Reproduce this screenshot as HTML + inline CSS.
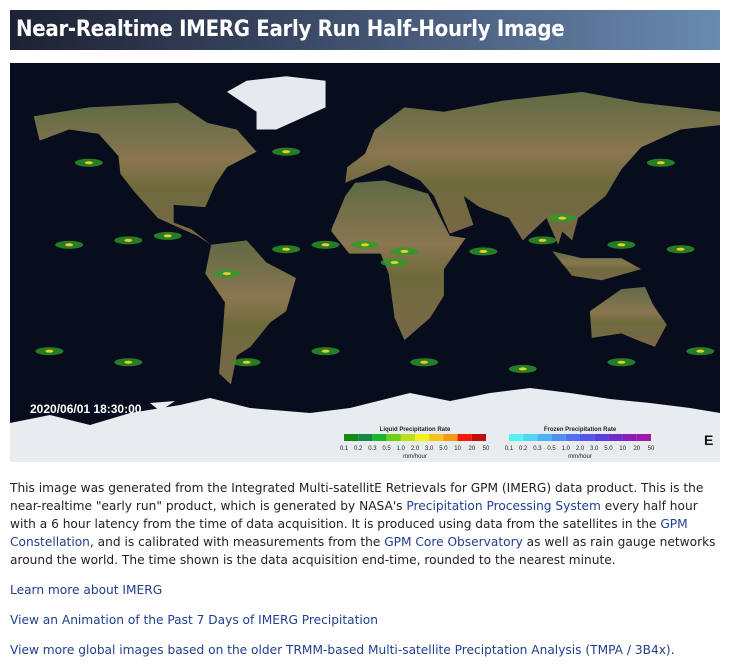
<!DOCTYPE html>
<html><head><meta charset="utf-8"><style>
body{margin:0;background:#fff;width:729px;height:666px;overflow:hidden;font-family:"DejaVu Sans","Liberation Sans",sans-serif;}
#hdr{position:absolute;left:10px;top:10px;width:710px;height:40px;background:linear-gradient(90deg,#1d2233 0%,#3a4864 40%,#6a8ab0 100%);}
#hdr h1{margin:0;color:#fff;font-family:"DejaVu Sans Condensed","Liberation Sans Narrow","Liberation Sans",sans-serif;font-weight:bold;font-size:22px;line-height:40px;padding-left:6px;letter-spacing:-0.3px}
#map{position:absolute;left:10px;top:63px;width:710px;height:399px}
.t{position:absolute;left:10px;font-size:12.2px;color:#222;line-height:18px;width:710px}
a{color:#1f3f8f;text-decoration:none}
</style></head><body>
<div id="hdr"><h1>Near-Realtime IMERG Early Run Half-Hourly Image</h1></div>
<svg id="map" viewBox="0 0 710 399" width="710" height="399">
<defs><linearGradient id="land" x1="0" y1="0" x2="0" y2="1"><stop offset="0" stop-color="#5f6a44"/><stop offset="0.4" stop-color="#8a7650"/><stop offset="0.6" stop-color="#6e6a3c"/><stop offset="1" stop-color="#7a6848"/></linearGradient></defs>
<rect width="710" height="399" fill="#070d1c"/>
<g id="land-g" fill="url(#land)"></g>
<path d="M0 360 L40 352 L80 362 L120 350 L170 342 L200 335 L240 345 L300 350 L340 345 L400 330 L440 338 L480 330 L520 325 L560 330 L600 336 L640 340 L680 345 L710 350 L710 399 L0 399Z" fill="#e8ecef"/>
<path d="M140 340 L150 348 L165 338Z" fill="#e8ecef"/>
<g id="rain"></g>
<text x="20" y="350" fill="#fff" font-size="12" font-weight="bold" font-family="Liberation Sans,sans-serif">2020/06/01 18:30:00</text>
<g id="legend" font-family="Liberation Sans,sans-serif" font-size="6" fill="#222"></g>
<text x="694" y="382" font-size="14" font-weight="bold" font-family="Liberation Sans,sans-serif" fill="#111">E</text>
</svg>
<div class="t" style="top:479px">This image was generated from the Integrated Multi-satellitE Retrievals for GPM (IMERG) data product. This is the near-realtime "early run" product, which is generated by NASA's <a href="#">Precipitation Processing System</a> every half hour with a 6 hour latency from the time of data acquisition. It is produced using data from the satellites in the <a href="#">GPM Constellation</a>, and is calibrated with measurements from the <a href="#">GPM Core Observatory</a> as well as rain gauge networks around the world. The time shown is the data acquisition end-time, rounded to the nearest minute.</div>
<div class="t" style="top:581px"><a href="#">Learn more about IMERG</a></div>
<div class="t" style="top:611px"><a href="#">View an Animation of the Past 7 Days of IMERG Precipitation</a></div>
<div class="t" style="top:641px"><a href="#">View more global images based on the older TRMM-based Multi-satellite Preciptation Analysis (TMPA / 3B4x)</a>.</div>
<script>
const NS="http://www.w3.org/2000/svg";
const P=(lo,la)=>[(lo+180)/360*710,(90-la)/180*399];
const conts={
"north-america":[[-168,66],[-140,70],[-95,72],[-80,63],[-65,60],[-55,50],[-70,43],[-76,35],[-81,25],[-97,26],[-97,18],[-88,15],[-78,8],[-85,12],[-105,20],[-117,32],[-124,40],[-125,48],[-135,58],[-150,60],[-165,55]],
"south-america":[[-78,8],[-60,10],[-50,0],[-35,-7],[-40,-22],[-48,-27],[-58,-38],[-65,-42],[-68,-55],[-74,-50],[-72,-30],[-71,-18],[-81,-5]],
"africa":[[-17,15],[-10,30],[-5,36],[10,37],[32,31],[43,12],[51,11],[40,-3],[40,-15],[33,-25],[20,-35],[15,-25],[12,-5],[8,4],[-8,4],[-17,14]],
"eurasia":[[-10,36],[-9,43],[0,49],[5,60],[20,70],[40,68],[70,73],[110,77],[140,72],[180,68],[180,62],[160,60],[140,52],[130,42],[122,30],[108,20],[105,10],[100,14],[98,8],[92,20],[80,10],[73,20],[58,25],[50,30],[55,17],[43,13],[35,30],[28,37],[12,44],[-10,36]],
"australia":[[114,-22],[130,-12],[142,-11],[146,-19],[153,-28],[147,-38],[138,-35],[130,-32],[115,-34]],
"indonesia":[[95,5],[105,-6],[120,-8],[140,-3],[130,2],[110,2]],
"greenland":[[-55,60],[-45,60],[-20,70],[-20,82],[-40,84],[-60,82],[-70,77],[-55,68]]};
const lg=document.getElementById('land-g');
for(const k in conts){const p=document.createElementNS(NS,'polygon');
p.setAttribute('points',conts[k].map(c=>P(c[0],c[1]).join(',')).join(' '));
if(k==='greenland')p.setAttribute('fill','#e6eaee');


lg.appendChild(p);}
const rain=document.getElementById('rain');
const streaks=[[-150,8],[-120,10],[-100,12],[-40,6],[-20,8],[0,8],[20,5],[60,5],[90,10],[130,8],[160,6],[-160,-40],[-120,-45],[-60,-45],[-20,-40],[30,-45],[80,-48],[130,-45],[170,-40],[-140,45],[-40,50],[150,45],[-70,-5],[15,0],[100,20]];
streaks.forEach(s=>{const [x,y]=P(s[0],s[1]);const r=document.createElementNS(NS,'ellipse');
r.setAttribute('cx',x);r.setAttribute('cy',y);r.setAttribute('rx',14);r.setAttribute('ry',4);
r.setAttribute('fill','#2f9a2a');r.setAttribute('opacity','0.8');


rain.appendChild(r);
const c=document.createElementNS(NS,'ellipse');c.setAttribute('cx',x);c.setAttribute('cy',y);c.setAttribute('rx',4);c.setAttribute('ry',1.5);c.setAttribute('fill','#e8d020');


rain.appendChild(c);});
const liquid=['#138a13','#15894a','#1ab52f','#6fcf15','#b9e21d','#f3f316','#f3c316','#f39b16','#f51a0a','#c40d0d'];
const frozen=['#55f2f5','#4fd6f5','#4fb2f5','#5090f3','#5070f0','#5555ee','#5a3ee0','#6f2dcc','#8a1fb8','#a01aa8'];
const ticks=['0.1','0.2','0.3','0.5','1.0','2.0','3.0','5.0','10','20','50'];
const leg=document.getElementById('legend');
function bar(x0,cols,title,name){const w=14.2;
const t=document.createElementNS(NS,'text');t.setAttribute('x',x0+cols.length*w/2);t.setAttribute('y',368);t.setAttribute('text-anchor','middle');t.setAttribute('font-weight','bold');t.textContent=title;


leg.appendChild(t);
cols.forEach((c,i)=>{const r=document.createElementNS(NS,'rect');r.setAttribute('x',x0+i*w);r.setAttribute('y',371);r.setAttribute('width',w);r.setAttribute('height',7);r.setAttribute('fill',c);


leg.appendChild(r);});
ticks.forEach((s,i)=>{const t2=document.createElementNS(NS,'text');t2.setAttribute('x',x0+i*w);t2.setAttribute('y',387);t2.setAttribute('text-anchor','middle');t2.textContent=s;


leg.appendChild(t2);});
const u=document.createElementNS(NS,'text');u.setAttribute('x',x0+cols.length*w/2);u.setAttribute('y',395);u.setAttribute('text-anchor','middle');u.textContent='mm/hour';


leg.appendChild(u);}
bar(334,liquid,'Liquid Precipitation Rate','liquid-legend');
bar(499,frozen,'Frozen Precipitation Rate','frozen-legend');
</script>
</body></html>
